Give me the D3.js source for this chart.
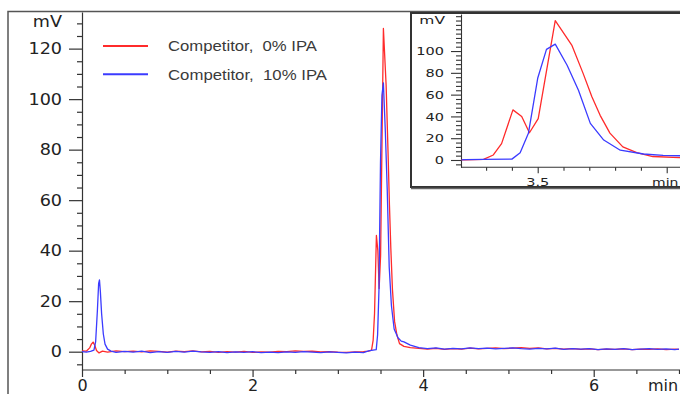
<!DOCTYPE html>
<html><head><meta charset="utf-8">
<script src="https://cdn.jsdelivr.net/npm/d3@7"></script>
<style>body{margin:0;background:#fff}svg{display:block}</style>
</head><body><script>
// ---- data ----
const seriesNames = ["Competitor,  0% IPA", "Competitor,  10% IPA"];
const seriesColors = ["#ff2b2b", "#3b3bff"];

const redTime = [0,0.05,0.09,0.11,0.13,0.15,0.17,0.2,0.24,0.3,0.4,0.5,0.6,0.7,0.8,0.9,1.0,1.1,1.2,1.3,1.4,1.5,1.6,1.7,1.8,1.9,2.0,2.1,2.2,2.3,2.4,2.5,2.6,2.7,2.8,2.9,3.0,3.1,3.2,3.3,3.36,3.395,3.414,3.43,3.452,3.469,3.484,3.501,3.534,3.566,3.588,3.605,3.621,3.64,3.665,3.692,3.723,3.775,3.85,3.95,4.05,4.15,4.25,4.35,4.45,4.55,4.65,4.75,4.85,4.95,5.05,5.15,5.25,5.35,5.45,5.55,5.65,5.75,5.85,5.95,6.05,6.15,6.25,6.35,6.45,6.55,6.65,6.75,6.85,6.95,7.0];
const redValue = [0.3,0.2,1.5,3.0,3.8,2.5,0.5,-0.5,0.2,-0.2,0.3,0.0,0.2,-0.1,0.3,0.1,-0.2,0.2,0.0,0.3,-0.1,0.1,-0.3,0.0,-0.2,0.1,-0.3,-0.1,-0.2,0.1,0.0,0.3,0.1,0.2,-0.1,0.0,-0.2,-0.3,-0.1,0.0,0.2,0.6,4.6,15,46,40,25,38,128,105.5,79.5,58,41,24.7,12,6.7,3.2,2.1,1.6,1.3,1.0,1.3,0.9,1.2,1.0,1.4,1.1,1.3,1.5,1.2,1.4,1.6,1.3,1.5,1.1,1.3,1.0,1.2,0.9,1.1,0.8,1.0,0.9,1.1,0.8,1.0,0.9,1.1,0.8,1.0,0.9];

const blueTime = [0,0.05,0.1,0.14,0.16,0.18,0.195,0.205,0.215,0.23,0.25,0.27,0.3,0.34,0.4,0.5,0.6,0.7,0.8,0.9,1.0,1.1,1.2,1.3,1.4,1.5,1.6,1.7,1.8,1.9,2.0,2.1,2.2,2.3,2.4,2.5,2.6,2.7,2.8,2.9,3.0,3.1,3.2,3.3,3.36,3.395,3.45,3.466,3.482,3.5,3.517,3.534,3.557,3.579,3.602,3.628,3.66,3.705,3.743,3.775,3.85,3.95,4.05,4.15,4.25,4.35,4.45,4.55,4.65,4.75,4.85,4.95,5.05,5.15,5.25,5.35,5.45,5.55,5.65,5.75,5.85,5.95,6.05,6.15,6.25,6.35,6.45,6.55,6.65,6.75,6.85,6.95,7.0];
const blueValue = [0.0,-0.2,0.1,0.6,4,16,27,28.4,24,15,7,3,1.0,0.2,-0.3,0.1,-0.2,0.2,-0.4,0.0,-0.3,0.1,-0.2,0.2,-0.1,-0.3,0.0,-0.4,-0.1,-0.3,0.0,-0.4,-0.2,-0.4,-0.1,-0.3,0.0,-0.2,-0.4,-0.1,-0.3,-0.5,-0.2,-0.4,0.3,0.5,0.8,6.7,24.5,75,101.5,106.4,87,64,33.6,18.3,9,5.5,4.2,3.9,2.6,1.6,1.2,1.5,1.0,1.3,1.1,1.5,1.2,1.4,1.1,1.3,1.5,1.2,1.0,1.3,1.1,1.4,0.9,1.2,1.0,1.2,0.8,1.1,0.9,1.2,0.8,1.0,1.2,0.9,1.1,0.8,1.0];

const xMajorTicks = [0, 2, 4, 6];
const xMinorTicks = [0.5, 1, 1.5, 2.5, 3, 3.5, 4.5, 5, 5.5, 6.5, 7];
const yMajorTicks = [0, 20, 40, 60, 80, 100, 120];
const yMinorTicks = [-5,5,10,15,25,30,35,45,50,55,65,70,75,85,90,95,105,110,115,125,130];
const insetXMajorTicks = [3.5, 3.75];
const insetXMinorTicks = [3.4, 3.45, 3.55, 3.6, 3.65, 3.7];
const insetXLabels = [3.5];
const insetYMajorTicks = [0, 20, 40, 60, 80, 100];
const insetYMinorTicks = [-4,4,8,12,16,24,28,32,36,44,48,52,56,64,68,72,76,84,88,92,96,104,108,112,116,120,124,128,132];

const series = [
  {name: seriesNames[0], color: seriesColors[0], pts: redTime.map((t,i)=>[t, redValue[i]])},
  {name: seriesNames[1], color: seriesColors[1], pts: blueTime.map((t,i)=>[t, blueValue[i]])}
];

// ---- drawing ----
const W = 680, H = 394;
const svg = d3.select("body").append("svg").attr("width", W).attr("height", H);
svg.append("rect").attr("width", W).attr("height", H).attr("fill", "#fff");
const defs = svg.append("defs");

const FONT = "DejaVu Sans, Verdana, sans-serif";
const x = d3.scaleLinear().domain([0, 7]).range([82, 679]);
const y = d3.scaleLinear().domain([-7.25, 134.5]).range([370, 12]);

// outer frame
svg.append("path").attr("d", "M8,394V11.5H680").attr("fill", "none").attr("stroke", "#555").attr("stroke-width", 1.5);

function styleAxis(g) {
  g.selectAll("line,path").attr("stroke", "#333").attr("stroke-width", 1.2);
  g.selectAll("text").attr("fill", "#222").attr("font-family", FONT).attr("font-size", 16);
}

// main y axis
const gy = svg.append("g").attr("transform", "translate(82,0)")
  .call(d3.axisLeft(y).tickValues(yMajorTicks).tickSize(13).tickPadding(7).tickSizeOuter(0));
styleAxis(gy);
gy.selectAll(".tick text").attr("x", 0).attr("transform", "translate(-20,0) scale(1.1,1)");
const gym = svg.append("g").attr("transform", "translate(82,0)")
  .call(d3.axisLeft(y).tickValues(yMinorTicks).tickSize(5).tickFormat(""));
gym.select(".domain").remove(); styleAxis(gym);
svg.append("text").attr("transform", "translate(62,27) scale(1.1,1)").attr("text-anchor", "end")
  .attr("font-family", FONT).attr("font-size", 16).attr("fill", "#222").text("mV");

// main x axis
const gx = svg.append("g").attr("transform", "translate(0,370)")
  .call(d3.axisBottom(x).tickValues(xMajorTicks).tickFormat(d3.format("d")).tickSize(7).tickPadding(3).tickSizeOuter(0));
styleAxis(gx);
gx.select(".domain").attr("d", "M82,0H680");
const gxm = svg.append("g").attr("transform", "translate(0,370)")
  .call(d3.axisBottom(x).tickValues(xMinorTicks).tickSize(4).tickFormat(""));
gxm.select(".domain").remove(); styleAxis(gxm);
svg.append("text").attr("x", 648).attr("y", 391).attr("font-family", FONT).attr("font-size", 16).attr("fill", "#222").text("min");

// main lines
const line = d3.line().x(d => x(d[0])).y(d => y(d[1]));
defs.append("clipPath").attr("id", "mainClip").append("rect")
  .attr("x", 82).attr("y", 12).attr("width", 598).attr("height", 358);
const gl = svg.append("g").attr("clip-path", "url(#mainClip)");
series.forEach(s => {
  gl.append("path").datum(s.pts).attr("d", line).attr("fill", "none")
    .attr("stroke", s.color).attr("stroke-width", 1.3).attr("stroke-linejoin", "round");
});

// legend
series.forEach((s, i) => {
  const ly = 46 + i * 28.3;
  svg.append("line").attr("x1", 103).attr("x2", 148).attr("y1", ly).attr("y2", ly)
    .attr("stroke", s.color).attr("stroke-width", 2);
  svg.append("text").attr("x", 168).attr("y", ly + 5.3)
    .attr("font-family", "Liberation Sans, Arial, sans-serif").attr("font-size", 15)
    .attr("fill", "#3a3a3a").attr("xml:space", "preserve")
    .attr("textLength", i === 0 ? 149 : 159).attr("lengthAdjust", "spacingAndGlyphs")
    .text(s.name);
});

// ---- inset ----
const PXMIN = 516;
const xi = d3.scaleLinear().domain([3.352, 3.79]).range([537.7 - 0.148 * PXMIN, 537.7 + 0.29 * PXMIN]);
const yi = d3.scaleLinear().domain([-6.7, 134]).range([167.3, 14]);
const inset = svg.append("g");
inset.append("rect").attr("x", 411).attr("y", 13).attr("width", 285).attr("height", 174)
  .attr("fill", "#fff").attr("stroke", "#333").attr("stroke-width", 2);
inset.append("line").attr("x1", 411).attr("x2", 690).attr("y1", 188.5).attr("y2", 188.5)
  .attr("stroke", "#666").attr("stroke-width", 1.5);

const SX = 1.45;
function styleInset(g) {
  g.selectAll("line,path").attr("stroke", "#333").attr("stroke-width", 1.1);
  g.selectAll("text").attr("fill", "#222").attr("font-family", FONT).attr("font-size", 10);
}
const giy = inset.append("g").attr("transform", "translate(461,0)")
  .call(d3.axisLeft(yi).tickValues(insetYMajorTicks).tickSize(10).tickPadding(6).tickSizeOuter(0));
styleInset(giy);
giy.selectAll(".tick text").attr("x", 0).attr("dy", null)
  .attr("y", 3.6).attr("transform", `translate(-17,0) scale(${SX},1)`);
const giym = inset.append("g").attr("transform", "translate(461,0)")
  .call(d3.axisLeft(yi).tickValues(insetYMinorTicks).tickSize(5).tickFormat(""));
giym.select(".domain").remove(); styleInset(giym);
inset.append("text").attr("transform", `translate(445,24) scale(${SX + 0.1},1)`).attr("text-anchor", "end")
  .attr("font-family", FONT).attr("font-size", 10).attr("fill", "#222").text("mV");

const gix = inset.append("g").attr("transform", "translate(0,167.3)")
  .call(d3.axisBottom(xi).tickValues(insetXMajorTicks).tickSize(6).tickFormat(""));
styleInset(gix);
gix.select(".domain").attr("d", "M461,0H690");
const gixm = inset.append("g").attr("transform", "translate(0,167.3)")
  .call(d3.axisBottom(xi).tickValues(insetXMinorTicks).tickSize(3.5).tickFormat(""));
gixm.select(".domain").remove(); styleInset(gixm);
insetXLabels.forEach(v => {
  inset.append("text").attr("transform", `translate(${xi(v)},185.5) scale(${SX},1)`).attr("text-anchor", "middle")
    .attr("font-family", FONT).attr("font-size", 10).attr("fill", "#222").text(d3.format(".1f")(v));
});
inset.append("text").attr("transform", `translate(652,185.5) scale(1.4,1)`)
  .attr("font-family", FONT).attr("font-size", 10).attr("fill", "#222").text("min");

defs.append("clipPath").attr("id", "insetClip").append("rect")
  .attr("x", 461.5).attr("y", 14).attr("width", 230).attr("height", 153);
const lineI = d3.line().x(d => xi(d[0])).y(d => yi(d[1]));
const gli = inset.append("g").attr("clip-path", "url(#insetClip)");
series.forEach(s => {
  gli.append("path").datum(s.pts.filter(p => p[0] > 3.2 && p[0] < 3.9)).attr("d", lineI).attr("fill", "none")
    .attr("stroke", s.color).attr("stroke-width", 1.3).attr("stroke-linejoin", "round");
});
</script></body></html>
